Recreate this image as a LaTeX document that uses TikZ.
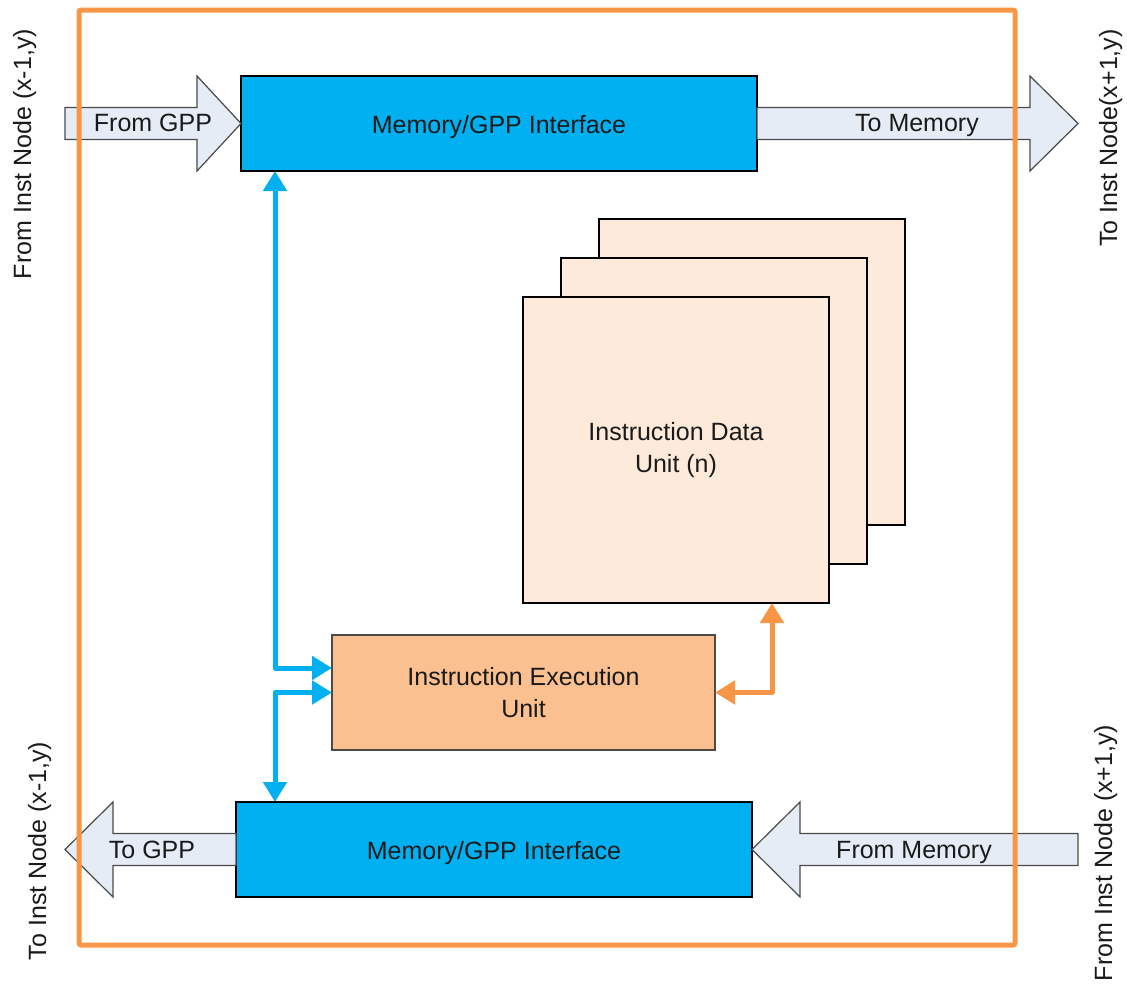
\documentclass[tikz,border=0pt]{standalone}
\usepackage{fontspec}
\setmainfont{Liberation Sans}
\usetikzlibrary{arrows.meta,calc}

\definecolor{frameorange}{HTML}{F79646}
\definecolor{ifaceblue}{HTML}{00B0F0}
\definecolor{flowfill}{HTML}{E5ECF6}
\definecolor{flowedge}{HTML}{4A4A4A}
\definecolor{idufill}{HTML}{FDEADA}
\definecolor{ieufill}{HTML}{FAC090}
\definecolor{inktext}{HTML}{1A1A1A}

\begin{document}
\begin{tikzpicture}[x=1pt,y=-1pt,
  font=\fontsize{25}{32}\selectfont, text=inktext,
  iface/.style={draw=black, line width=1.2pt, fill=ifaceblue, anchor=north west,
    minimum width=516pt, minimum height=95pt, inner sep=0pt, outer sep=0pt,
    text height=20pt, text depth=0pt},
  idu/.style={draw=black, line width=2.6pt, fill=idufill, anchor=north west,
    minimum width=306pt, minimum height=306pt, inner sep=0pt, outer sep=0pt, align=center},
  ieu/.style={draw=flowedge, line width=1.4pt, fill=ieufill, anchor=north west,
    minimum width=383pt, minimum height=115pt, inner sep=0pt, outer sep=0pt, align=center},
  flow/.style={draw=flowedge, line width=1.2pt, fill=flowfill, line join=miter},
  lbl/.style={inner sep=0pt, text height=18pt, text depth=0pt},
  bus/.style={draw=ifaceblue, line width=5pt, line join=round,
    {Triangle[length=20pt,width=23pt]}-{Triangle[length=20pt,width=23pt]}},
  obus/.style={draw=frameorange, line width=5pt, line join=round,
    {Triangle[length=20pt,width=23pt]}-{Triangle[length=20pt,width=23pt]}}
]
\useasboundingbox (0,0) rectangle (1127,988);

% interface blocks
\node[iface] (ifTop) at (241,76) {Memory/GPP Interface};
\node[iface] (ifBot) at (236,802) {Memory/GPP Interface};

% stacked instruction data units
\node[idu] (iduBack) at (599,219) {};
\node[idu] (iduMid) at (561,258) {};
\node[idu] (iduFront) at (523,297) {Instruction Data\\Unit (n)};

% execution unit
\node[ieu] (ieu) at (332,635) {Instruction Execution\\Unit};

% block arrows of the top interface
\draw[flow] (ifTop.west) -- ++(-44,-47.5) -- ++(0,31.5) -- ++(-132,0)
  -- ++(0,32) -- ++(132,0) -- ++(0,31.5) -- cycle;
\draw[flow] ($(ifTop.east)+(0,-16)$) -- ++(273,0) -- ++(0,-31.5) -- ++(48,47.5)
  -- ++(-48,47.5) -- ++(0,-31.5) -- ++(-273,0) -- cycle;
\node[lbl] (fromGPP) at (153,122) {From GPP};
\node[lbl] (toMem) at (917,122) {To Memory};

% block arrows of the bottom interface
\draw[flow] ($(ifBot.west)+(0,-16)$) -- ++(-123,0) -- ++(0,-31.5) -- ++(-48,47.5)
  -- ++(48,47.5) -- ++(0,-31.5) -- ++(123,0) -- cycle;
\draw[flow] (ifBot.east) -- ++(48,-47.5) -- ++(0,31.5) -- ++(278,0)
  -- ++(0,32) -- ++(-278,0) -- ++(0,31.5) -- cycle;
\node[lbl] (toGPP) at (152,849) {To GPP};
\node[lbl] (fromMem) at (914,849) {From Memory};

% internal buses
\draw[bus] ($(ifTop.south west)+(34,0)$) |- ($(ieu.west)+(0,-24.5)$);
\draw[bus] (ieu.west) -| ($(ifBot.north west)+(39,0)$);
\draw[obus] (ieu.east) -| ($(iduFront.south west)+(249,0)$);

% tile boundary
\node[draw=frameorange, line width=5pt, rounded corners=2pt, anchor=north west,
  minimum width=936pt, minimum height=935pt, inner sep=0pt, outer sep=0pt] (tile) at (79,10) {};

% neighbour labels
\node[lbl, rotate=90] (nbTL) at (22,154) {From Inst Node (x-1,y)};
\node[lbl, rotate=90] (nbTR) at (1108,138) {To Inst Node(x+1,y)};
\node[lbl, rotate=90] (nbBL) at (37,851) {To Inst Node (x-1,y)};
\node[lbl, rotate=90] (nbBR) at (1103,853) {From Inst Node (x+1,y)};
\end{tikzpicture}
\end{document}
